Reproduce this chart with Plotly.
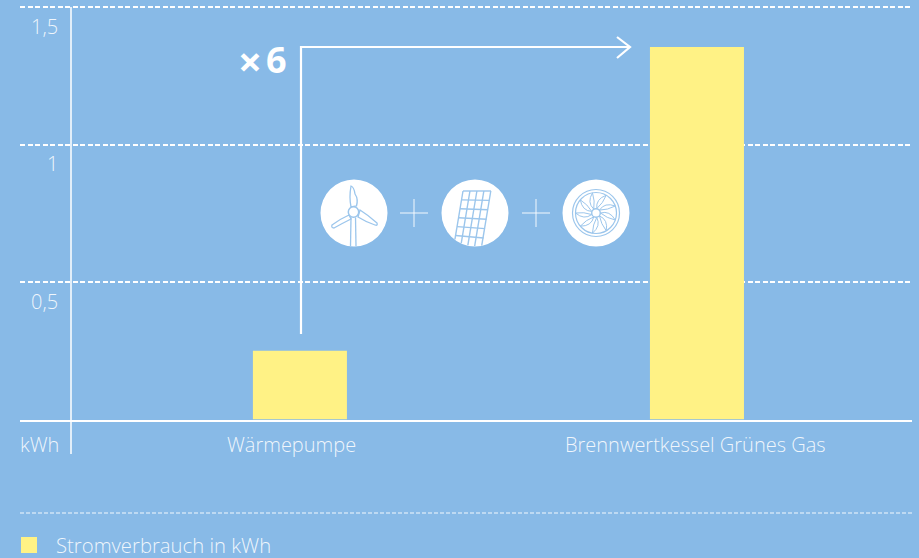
import math
import plotly.graph_objects as go

# Chart data
categories = ["Wärmepumpe", "Brennwertkessel Grünes Gas"]
consumption_kwh = [0.25, 1.355]
y_ticks = [0.5, 1, 1.5]
y_tick_labels = ["0,5", "1", "1,5"]
series_name = "Stromverbrauch in kWh"
unit_label = "kWh"

W, H = 919, 558
BG = "#88BAE7"
YELLOW = "#FFF285"
WHITE = "#FFFFFF"
TEXT = "rgba(255,255,255,0.88)"
ICON_LINE = "#9CC6EC"
FONT = "Open Sans"
LABEL_SIZE = 20


def fx(x):
    return x / W


def fy(y):
    return 1 - y / H


shapes = []


def seg(x0, y0, x1, y1, color=WHITE, width=1.5, dash="solid"):
    shapes.append(dict(type="line", xref="paper", yref="paper", layer="above",
                       x0=fx(x0), y0=fy(y0), x1=fx(x1), y1=fy(y1),
                       line=dict(color=color, width=width, dash=dash)))


def disc(cx, cy, r, fill=None, color=None, width=1.2):
    shapes.append(dict(type="circle", xref="paper", yref="paper", layer="above",
                       x0=fx(cx - r), x1=fx(cx + r), y0=fy(cy - r), y1=fy(cy + r),
                       fillcolor=fill or "rgba(0,0,0,0)",
                       line=dict(color=color or "rgba(0,0,0,0)", width=width if color else 0)))


def curve(points, color=ICON_LINE, width=1.3, close=False, fill=None):
    """Path built from M/L/Q commands given in pixel positions."""
    parts = []
    for cmd, *pts in points:
        parts.append(cmd + " " + " ".join(f"{fx(x):.5f},{fy(y):.5f}" for x, y in pts))
    path = " ".join(parts) + (" Z" if close else "")
    shapes.append(dict(type="path", xref="paper", yref="paper", layer="above", path=path,
                       fillcolor=fill or "rgba(0,0,0,0)", line=dict(color=color, width=width)))


def clip_to_circle(x0, y0, x1, y1, cx, cy, r):
    dx, dy = x1 - x0, y1 - y0
    a = dx * dx + dy * dy
    b = 2 * ((x0 - cx) * dx + (y0 - cy) * dy)
    c = (x0 - cx) ** 2 + (y0 - cy) ** 2 - r * r
    disc_val = b * b - 4 * a * c
    if disc_val <= 0:
        return None
    s = math.sqrt(disc_val)
    t0, t1 = max(0, (-b - s) / (2 * a)), min(1, (-b + s) / (2 * a))
    if t0 >= t1:
        return None
    return x0 + dx * t0, y0 + dy * t0, x0 + dx * t1, y0 + dy * t1


# Axis rule, footer rule
seg(71, 7, 71, 454, width=1.5)
seg(20, 513, 912, 513, color="rgba(255,255,255,0.9)", width=1, dash="4px,2px")

# Step arrow from the small bar to the tall one
curve([("M", (301, 334)), ("L", (301, 47)), ("L", (630, 47))], color=WHITE, width=2.2)
curve([("M", (617, 37)), ("L", (630, 47)), ("L", (617, 58))], color=WHITE, width=2.2)

# Wind turbine badge
c1 = (354, 213)
disc(*c1, 33.5, fill=WHITE)
curve([("M", (351, 186)), ("Q", (349, 197), (351, 207)), ("L", (356.5, 206)),
       ("Q", (358.5, 199), (355, 194)), ("Q", (354, 187), (351, 186))], close=True)
curve([("M", (360, 210)), ("Q", (368, 215), (377, 223)), ("Q", (378, 226), (375, 225)),
       ("Q", (366, 222), (358, 217))], close=True)
curve([("M", (349, 215)), ("Q", (340, 219), (332, 225)), ("Q", (331, 228), (334, 228)),
       ("Q", (343, 223), (351, 219))], close=True)
disc(353.5, 212, 5.2, fill=WHITE, color=ICON_LINE, width=1.5)
seg(351, 217.5, 350.5, 246, color=ICON_LINE, width=1.3)
seg(355.5, 217.5, 356, 246, color=ICON_LINE, width=1.3)

# Solar panel badge
c2 = (475, 213)
disc(*c2, 33.5, fill=WHITE)
PANEL_SLANT = -10 / 60
for col in range(5):
    x_top = 463 + col * 6.95
    x_low = x_top + PANEL_SLANT * 60
    clipped = clip_to_circle(x_top, 191, x_low, 251, *c2, 33.2)
    if clipped:
        seg(*clipped, color=ICON_LINE, width=1.4)
for row in range(7):
    y_row = 191 + row * 8.9
    left = 463 + PANEL_SLANT * (y_row - 191)
    clipped = clip_to_circle(left, y_row, left + 28, y_row + row * 0.5, *c2, 33.2)
    if clipped:
        seg(*clipped, color=ICON_LINE, width=1.4)

# Fan badge: double rim, nine petal blades, hub
c3 = (596, 213)


def polar(radius, angle):
    return c3[0] + radius * math.cos(angle), c3[1] + radius * math.sin(angle)


disc(*c3, 33.5, fill=WHITE)
disc(*c3, 23.5, color=ICON_LINE, width=1.2)
disc(*c3, 20.5, color=ICON_LINE, width=1.2)
for k in range(9):
    angle = k * 2 * math.pi / 9
    tip = polar(20.5, angle + 0.35)
    curve([("M", polar(4.5, angle)), ("Q", polar(14, angle - 0.2), tip)], width=1.0)
    curve([("M", polar(4.5, angle)), ("Q", polar(12, angle + 0.45), tip)], width=1.0)
disc(*c3, 4.3, fill=WHITE, color=ICON_LINE, width=1.4)

# Plus signs between the badges
for px_ in (414, 536):
    seg(px_ - 14, 213, px_ + 14, 213, color="rgba(255,255,255,0.75)", width=1.2)
    seg(px_, 199, px_, 227, color="rgba(255,255,255,0.75)", width=1.2)

# Legend swatch
shapes.append(dict(type="rect", xref="paper", yref="paper", layer="above",
                   x0=fx(21), x1=fx(37), y0=fy(553), y1=fy(537),
                   fillcolor=YELLOW, line=dict(width=0)))

label_font = dict(family=FONT, size=LABEL_SIZE, color=TEXT, weight=300)
annotations = [
    dict(x=60 / W, y=tick, xref="paper", yref="y", text=label, showarrow=False,
         xanchor="right", yanchor="middle", yshift=-19, font=label_font)
    for tick, label in zip(y_ticks, y_tick_labels)
]
# Category labels sit slightly left of their bars
annotations += [
    dict(x=cat, y=0, xref="x", yref="y", text=cat, showarrow=False,
         xanchor="center", yanchor="middle", yshift=-24.5, xshift=shift, font=label_font)
    for cat, shift in zip(categories, (-8, -1.5))
]
annotations += [
    dict(x=fx(18), y=fy(444), xref="paper", yref="paper", text=unit_label, showarrow=False,
         xanchor="left", yanchor="middle", font=label_font),
    dict(x=fx(54), y=fy(545), xref="paper", yref="paper", text=series_name, showarrow=False,
         xanchor="left", yanchor="middle",
         font=dict(family=FONT, size=20.3, color=TEXT, weight=300)),
    dict(x=fx(250.5), y=fy(60), xref="paper", yref="paper", text="×", showarrow=False,
         xanchor="center", yanchor="middle",
         font=dict(family=FONT, size=42, color=WHITE, weight=700)),
    dict(x=fx(276.5), y=fy(59), xref="paper", yref="paper", text="6", showarrow=False,
         xanchor="center", yanchor="middle",
         font=dict(family=FONT, size=36, color=WHITE, weight=700)),
]

fig = go.Figure(go.Bar(x=categories, y=consumption_kwh, name=series_name,
                       marker=dict(color=YELLOW, line=dict(width=0)),
                       width=0.2368, showlegend=False))

fig.update_layout(
    width=W, height=H, autosize=False,
    margin=dict(l=0, r=0, t=0, b=0, pad=0),
    paper_bgcolor=BG, plot_bgcolor=BG,
    shapes=shapes, annotations=annotations,
    xaxis=dict(domain=[20 / W, 912 / W], type="category", range=[-0.705, 1.5416],
               showgrid=False, showline=True, linecolor=WHITE, linewidth=1.5,
               ticks="", showticklabels=False),
    yaxis=dict(domain=[1 - 419.5 / H, 1 - 1.5 / H], range=[0, 1.52], tickvals=y_ticks,
               showticklabels=False, ticks="", zeroline=False, showline=False,
               showgrid=True, gridcolor=WHITE, gridwidth=1.5, griddash="5px,2.5px"),
)

fig.write_html("out.html")
